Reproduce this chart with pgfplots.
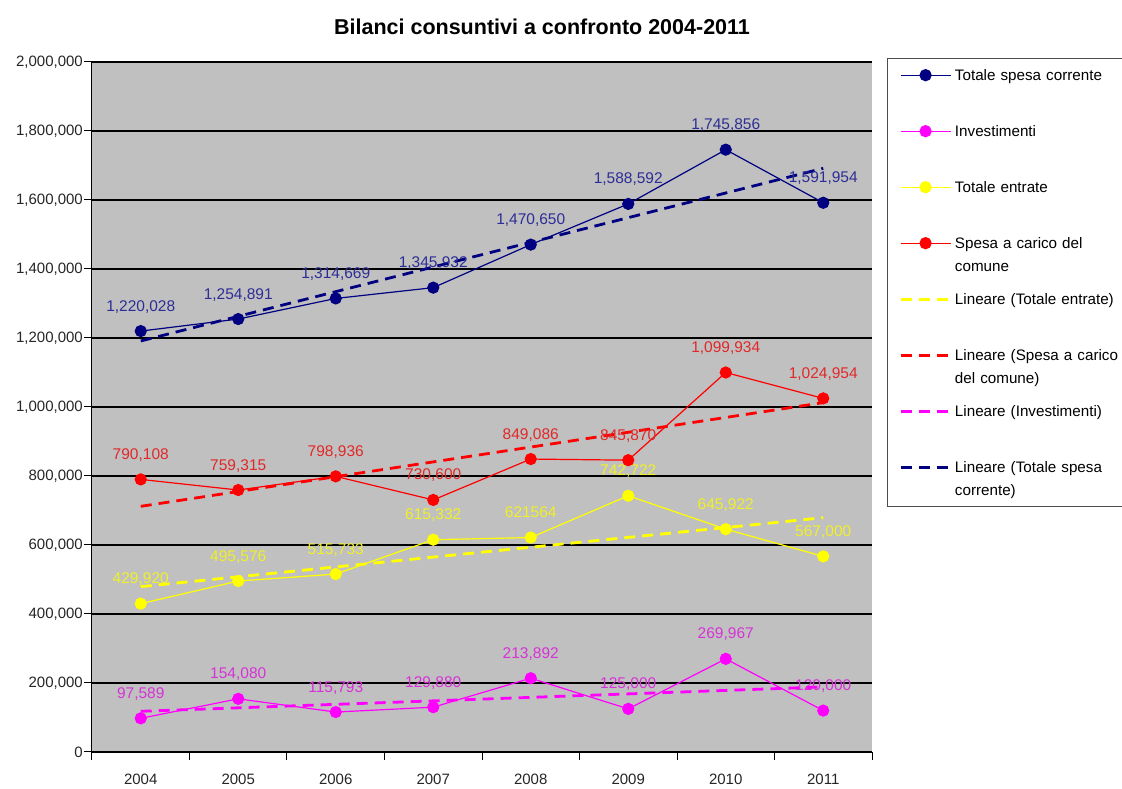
\documentclass[border=0pt]{standalone}
\usepackage{pgfplots}
\pgfplotsset{compat=1.18}
\usepackage{pgfplotstable}
\usepackage{fontspec}
\setmainfont{Liberation Sans}
\definecolor{navy}{RGB}{0,0,128}
\definecolor{mag}{RGB}{255,0,255}
\definecolor{yel}{RGB}{255,255,0}
\definecolor{rred}{RGB}{255,0,0}
\definecolor{plotgray}{RGB}{192,192,192}
\definecolor{lnavy}{RGB}{45,45,150}
\definecolor{lred}{RGB}{225,40,40}
\definecolor{lyel}{RGB}{240,240,40}
\definecolor{lmag}{RGB}{215,50,215}

\pgfplotstableread{
x y lab
0 1220028 1,220,028
1 1254891 1,254,891
2 1314669 1,314,669
3 1345932 1,345,932
4 1470650 1,470,650
5 1588592 1,588,592
6 1745856 1,745,856
7 1591954 1,591,954
}\corrente
\pgfplotstableread{
x y lab
0 97589 97,589
1 154080 154,080
2 115793 115,793
3 129880 129,880
4 213892 213,892
5 125000 125,000
6 269967 269,967
7 120000 120,000
}\investimenti
\pgfplotstableread{
x y lab
0 429920 429,920
1 495576 495,576
2 515733 515,733
3 615332 615,332
4 621564 621564
5 742722 742,722
6 645922 645,922
7 567000 567,000
}\entrate
\pgfplotstableread{
x y lab
0 790108 790,108
1 759315 759,315
2 798936 798,936
3 730600 730,600
4 849086 849,086
5 845870 845,870
6 1099934 1,099,934
7 1024954 1,024,954
}\carico

\begin{document}
\begin{tikzpicture}[x=1pt,y=1pt]
\path[use as bounding box, fill=white] (0,0) rectangle (1122,789);
\node[font=\fontsize{21.5}{26}\selectfont\bfseries] at (542,762) {Bilanci consuntivi a confronto 2004-2011};
\begin{axis}[
  at={(92pt,37pt)}, anchor=south west, scale only axis,
  width=780pt, height=690pt,
  xmin=-0.5, xmax=7.5, ymin=0, ymax=2000000,
  xtick={-0.5,0.5,...,7.5}, x tick label as interval,
  xticklabels={2004,2005,2006,2007,2008,2009,2010,2011},
  ytick={0,200000,400000,600000,800000,1000000,1200000,1400000,1600000,1800000,2000000},
  yticklabels={0,{200,000},{400,000},{600,000},{800,000},{1,000,000},{1,200,000},{1,400,000},{1,600,000},{1,800,000},{2,000,000}},
  scaled y ticks=false,
  axis x line*=bottom, axis y line*=left,
  axis line style={black, line width=1pt},
  tick align=outside, major tick length=8pt,
  tick style={black, line width=1pt},
  ymajorgrids, major grid style={black, line width=1.2pt},
  axis background/.style={fill=plotgray},
  ticklabel style={font=\fontsize{15}{18}\selectfont, text=black!85},
  yticklabel style={inner xsep=1pt},
  xticklabel style={yshift=-10pt},
  clip=false,
  legend image code/.code={\draw[mark repeat=2,mark phase=2,#1] plot coordinates {(0pt,5pt) (25pt,5pt) (50pt,5pt)}; \path (0pt,-1pt) (0pt,11pt);},
  legend style={at={(axis description cs:1.0192,1.0058)}, anchor=north west,
    draw=black!70, fill=white,
    inner xsep=12pt, inner ysep=0pt, row sep=0pt, column sep=3pt,
    font=\fontsize{15.2}{23}\selectfont,
    nodes={inner sep=0pt, text height=22pt, text depth=34pt, text width=230pt, align=left},
    cells={anchor=base west}},
  every node near coord/.append style={font=\fontsize{15.5}{18}\selectfont, anchor=base, yshift=20pt},
]
\addplot[color=navy, line width=1.2pt, mark=*, mark size=5.5pt, mark options={solid, fill=navy, draw=navy},
  legend image post style={draw=navy, line width=1.3pt},
  nodes near coords, point meta=explicit symbolic,
  every node near coord/.append style={text=lnavy}] table[x=x,y=y,meta=lab] {\corrente};
\addlegendentry{Totale spesa corrente}
\addplot[color=mag, line width=1.2pt, mark=*, mark size=5.5pt, mark options={solid, fill=mag, draw=mag},
  legend image post style={draw=mag, line width=1.3pt},
  nodes near coords, point meta=explicit symbolic,
  every node near coord/.append style={text=lmag}] table[x=x,y=y,meta=lab] {\investimenti};
\addlegendentry{Investimenti}
\addplot[color=yel, line width=1.2pt, mark=*, mark size=5.5pt, mark options={solid, fill=yel, draw=yel},
  legend image post style={draw=yel, line width=1.3pt},
  nodes near coords, point meta=explicit symbolic,
  every node near coord/.append style={text=lyel}] table[x=x,y=y,meta=lab] {\entrate};
\addlegendentry{Totale entrate}
\addplot[color=rred, line width=1.2pt, mark=*, mark size=5.5pt, mark options={solid, fill=rred, draw=rred},
  legend image post style={draw=rred, line width=1.3pt},
  nodes near coords, point meta=explicit symbolic,
  every node near coord/.append style={text=lred}] table[x=x,y=y,meta=lab] {\carico};
\addlegendentry{Spesa a carico del\\comune}
\addplot[yel, line width=2.8pt, dash pattern=on 11pt off 7pt] coordinates {(0,479284) (7,679158)};
\addlegendentry{Lineare (Totale entrate)}
\addplot[rred, line width=2.8pt, dash pattern=on 11pt off 7pt] coordinates {(0,712088) (7,1012613)};
\addlegendentry{Lineare (Spesa a carico\\del comune)}
\addplot[mag, line width=2.8pt, dash pattern=on 11pt off 7pt] coordinates {(0,117944) (7,188606)};
\addlegendentry{Lineare (Investimenti)}
\addplot[navy, line width=2.8pt, dash pattern=on 11pt off 7pt] coordinates {(0,1191372) (7,1691771)};
\addlegendentry{Lineare (Totale spesa\\corrente)}
\end{axis}
\end{tikzpicture}
\end{document}
